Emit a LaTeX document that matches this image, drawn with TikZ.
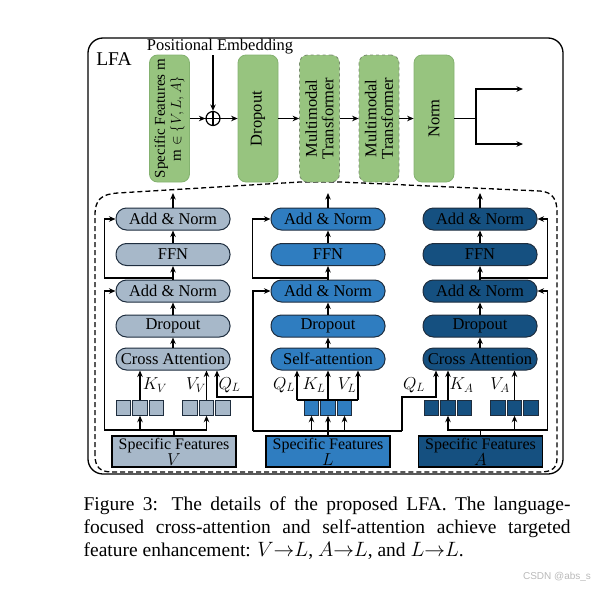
\documentclass[tikz,border=0pt]{standalone}
\usepackage{fontspec}
\setmainfont{Liberation Serif}
\newfontfamily\wmfont{Liberation Sans}
\usetikzlibrary{arrows.meta,calc}
\definecolor{gfill}{RGB}{151,196,127}
\definecolor{gdraw}{RGB}{132,178,112}
\definecolor{mtdraw}{RGB}{120,140,110}
\definecolor{cv}{RGB}{167,184,201}
\definecolor{cl}{RGB}{47,125,192}
\definecolor{ca}{RGB}{21,80,128}
\definecolor{pdraw}{RGB}{30,45,62}
\begin{document}
\begin{tikzpicture}[x=1pt,y=-1pt,
 line width=1.2pt,
 arr/.style={-{Stealth[length=6.5pt,width=5.5pt]}, line width=1.2pt},
 gbox/.style={draw=gdraw, fill=gfill, rounded corners=8pt, minimum width=40pt, minimum height=127pt, line width=0.8pt, inner sep=0pt},
 gtext/.style={rotate=90, align=center, inner sep=0pt, font=\fontsize{16.5}{16.5}\selectfont},
 pill/.style={draw=pdraw, line width=1pt, rounded corners=10.5pt, minimum width=114pt, minimum height=22pt, inner sep=0pt, font=\fontsize{16.5}{16.5}\selectfont},
 sq/.style={draw=pdraw, line width=0.9pt, minimum size=14.5pt, inner sep=0pt},
 sfbox/.style={draw=black, line width=1.5pt, minimum width=124pt, minimum height=31pt, inner sep=0pt, align=center, font=\fontsize{16}{12.5}\selectfont},
 lab/.style={font=\fontsize{17.5}{17.5}\selectfont, inner sep=0pt}
]
\useasboundingbox (0,0) rectangle (596,589);

% outer frame
\draw[line width=1.3pt, rounded corners=15pt] (88,38) rectangle (563,474);
\node[font=\fontsize{19.5}{19.5}\selectfont, inner sep=0pt] (lfa) at (114,59) {LFA};

% dashed detail outline
\draw[dashed, line width=1.3pt, dash pattern=on 5pt off 3pt]
 (95,455) -- (95,215) .. controls (95,200) and (101,194) .. (118,193)
 -- (300,182) -- (340,182) -- (540,191)
 .. controls (553,192) and (557,200) .. (557,212)
 -- (557,458) .. controls (557,468) and (552,472) .. (540,472)
 -- (112,472) .. controls (100,472) and (95,467) .. (95,455) -- cycle;

% top row
\node[gbox] (g1) at (169.5,118.5) {};
\node[gtext, font=\fontsize{15}{16}\selectfont] (g1t) at (g1) {Specific Features m\\m $\in\{V,L,A\}$};
\node[circle, draw, fill=white, minimum size=14pt, inner sep=0pt, line width=1.2pt] (ox) at (213,118.5) {};
\draw (ox.north) -- (ox.south) (ox.west) -- (ox.east);
\node[font=\fontsize{16.5}{16.5}\selectfont, inner sep=0pt] (pe) at (220,47) {Positional Embedding};
\draw[arr] (pe.south -| ox.north) -- (ox.north);
\draw[arr] (g1.east) -- (ox.west);
\node[gbox] (g2) at (258,118.5) {};
\node[gtext] (g2t) at (g2) {Dropout};
\draw[arr] (ox.east) -- (g2.west);
\node[gbox, draw=mtdraw, dashed] (g3) at (319.5,118.5) {};
\node[gtext] (g3t) at (g3) {Multimodal\\Transformer};
\node[gbox, draw=mtdraw, dashed] (g4) at (379,118.5) {};
\node[gtext] (g4t) at (g4) {Multimodal\\Transformer};
\node[gbox] (g5) at (434,118.5) {};
\node[gtext] (g5t) at (g5) {Norm};
\draw[arr] (g2.east) -- (g3.west);
\draw[arr] (g3.east) -- (g4.west);
\draw[arr] (g4.east) -- (g5.west);
\coordinate (br) at (476,118.5);
\coordinate (o1) at (523,89);
\coordinate (o2) at (523,144);
\draw (g5.east) -- (br);
\draw[arr] (br) |- (o1);
\draw[arr] (br) |- (o2);

% ---------- column V ----------
\node[pill, fill=cv] (v5) at (173,219) {Add \& Norm};
\node[pill, fill=cv] (v4) at (173,254.5) {FFN};
\node[pill, fill=cv] (v3) at (173,291) {Add \& Norm};
\node[pill, fill=cv] (v2) at (173,326) {Dropout};
\node[pill, fill=cv] (v1) at (173,359) {Cross Attention};
\draw[arr] (v1.north) -- (v2.south);
\draw[arr] (v2.north) -- (v3.south);
\draw[arr] (v3.north) -- (v4.south);
\draw[arr] (v4.north) -- (v5.south);
\coordinate (vt) at (173,193);
\draw[arr] (v5.north) -- (vt);
\coordinate (vr1) at (173,278);
\draw[arr] (vr1) -| ($(v5.west)+(-11,0)$) -- (v5.west);
\foreach \i/\x in {1/123.5,2/140,3/156.5,4/190,5/206.5,6/223}{
  \node[sq, fill=cv] (vs\i) at (\x,408) {};
}
\node[sfbox, fill=cv] (vf) at (174,451.5) {Specific Features\\$V$};
\coordinate (vin) at (174,430);
\draw (vf.north) -- (vin);
\draw[arr] (vin) -| (vs2.south);
\draw[arr] (vin) -| (vs5.south);
\draw[arr] (vin) -| ($(v3.west)+(-11,0)$) -- (v3.west);
\draw[arr] (vs2.north) -- (vs2.north |- v1.south);
\draw[arr] (vs5.north) -- (vs5.north |- v1.south);
\node[lab] (kv) at (155,385) {$K_V$};
\node[lab] (vv) at (196,385) {$V_V$};
\node[lab] (qv) at (229.5,385) {$Q_L$};

% ---------- column L ----------
\node[pill, fill=cl] (l5) at (328,219) {Add \& Norm};
\node[pill, fill=cl] (l4) at (328,254.5) {FFN};
\node[pill, fill=cl] (l3) at (328,291) {Add \& Norm};
\node[pill, fill=cl] (l2) at (328,326) {Dropout};
\node[pill, fill=cl] (l1) at (328,359) {Self-attention};
\draw[arr] (l1.north) -- (l2.south);
\draw[arr] (l2.north) -- (l3.south);
\draw[arr] (l3.north) -- (l4.south);
\draw[arr] (l4.north) -- (l5.south);
\coordinate (lt) at (328,193);
\draw[arr] (l5.north) -- (lt);
\coordinate (lr1) at (328,278);
\draw[arr] (lr1) -| ($(l5.west)+(-18,0)$) -- (l5.west);
\foreach \i/\x in {1/311.5,2/328,3/344.5}{
  \node[sq, fill=cl] (ls\i) at (\x,408) {};
}
\node[sfbox, fill=cl] (lf) at (328,451.5) {Specific Features\\$L$};
\coordinate (lL) at (253,431);
\coordinate (lR) at (402,431);
\coordinate (lin) at (328,431);
\draw (lL) -- (lR);
\draw[arr] (lf.north) -- (ls2.south);
\draw[arr] (lin) -| (ls1.south);
\draw[arr] (lin) -| (ls3.south);
\draw[arr] (lL) |- (l3.west);
\coordinate (lqa) at (297,400);
\coordinate (lva) at (358,400);
\draw (lqa) -- (lva);
\draw[arr] (lqa) -- (lqa |- l1.south);
\draw[arr] (ls2.north) -- (ls2.north |- l1.south);
\draw[arr] (lva) -- (lva |- l1.south);
\node[lab] (ql) at (284,385) {$Q_L$};
\node[lab] (kl) at (314,385) {$K_L$};
\node[lab] (vl) at (347,385) {$V_L$};
% Q_L to column V
\coordinate (lq1) at (253,397);
\coordinate (vqx) at (217,0);
\draw[arr] (lq1) -| (vqx |- v1.south);

% ---------- column A ----------
\node[pill, fill=ca] (a5) at (480,219) {Add \& Norm};
\node[pill, fill=ca] (a4) at (480,254.5) {FFN};
\node[pill, fill=ca] (a3) at (480,291) {Add \& Norm};
\node[pill, fill=ca] (a2) at (480,326) {Dropout};
\node[pill, fill=ca] (a1) at (480,359) {Cross Attention};
\draw[arr] (a1.north) -- (a2.south);
\draw[arr] (a2.north) -- (a3.south);
\draw[arr] (a3.north) -- (a4.south);
\draw[arr] (a4.north) -- (a5.south);
\coordinate (at) at (480,193);
\draw[arr] (a5.north) -- (at);
\coordinate (ar1) at (480,278);
\draw[arr] (ar1) -| ($(a5.east)+(10,0)$) -- (a5.east);
\foreach \i/\x in {1/431.5,2/448,3/464.5,4/498,5/514.5,6/531}{
  \node[sq, fill=ca] (as\i) at (\x,408) {};
}
\node[sfbox, fill=ca] (af) at (480.5,451.5) {Specific Features\\$A$};
\coordinate (ain) at (480.5,430);
\draw (af.north) -- (ain);
\draw[arr] (ain) -| (as2.south);
\draw[arr] (ain) -| (as5.south);
\draw[arr] (ain) -| ($(a3.east)+(10,0)$) -- (a3.east);
\draw[arr] (as2.north) -- (as2.north |- a1.south);
\draw[arr] (as5.north) -- (as5.north |- a1.south);
\coordinate (aqc) at (402,397);
\coordinate (aqx) at (436,0);
\draw[arr] (lR) -- (aqc) -| (aqx |- a1.south);
\node[lab] (qa) at (414,385) {$Q_L$};
\node[lab] (ka) at (461.5,385) {$K_A$};
\node[lab] (va) at (500,385) {$V_A$};

% caption
\node[anchor=north west, inner sep=0pt, align=left, font=\fontsize{19.5}{23}\selectfont] (cap) at (83,496)
 {\makebox[487pt][s]{Figure 3: The details of the proposed LFA. The language-}\\
  \makebox[487pt][s]{focused cross-attention and self-attention achieve targeted}\\
  feature enhancement: $V{\to}L$, $A{\to}L$, and $L{\to}L$.};
\node[font=\wmfont\fontsize{10}{10}\selectfont, text=gray!55, inner sep=0pt] (wm) at (557,577) {CSDN @abs\_s};
\end{tikzpicture}
\end{document}
